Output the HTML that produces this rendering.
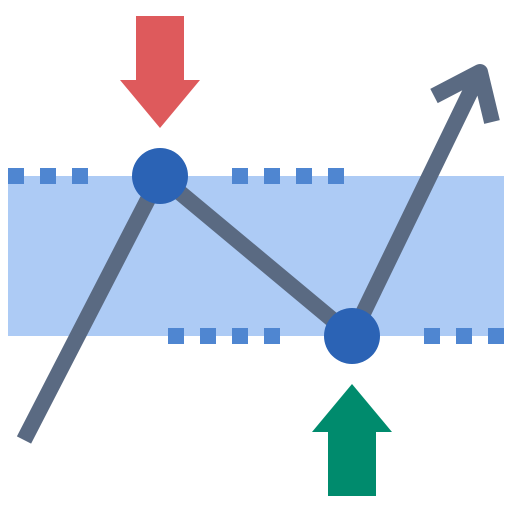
<!DOCTYPE html>
<html><head><meta charset="utf-8"><style>html,body{margin:0;padding:0;background:#fff;width:512px;height:512px;overflow:hidden}</style></head>
<body>
<svg id="s" width="512" height="512" viewBox="0 0 512 512" xmlns="http://www.w3.org/2000/svg">
<rect x="8" y="176" width="496" height="160" fill="#adcbf5"/>
<g id="dots"></g>
<polyline id="trend" fill="none" stroke="#5a6a82" stroke-width="16" stroke-linejoin="miter"/>
<polyline points="434,96 480,72 492,122" fill="none" stroke="#5a6a82" stroke-width="16" stroke-linejoin="round"/>
<g id="nodes"></g>
<g fill="#de5a5c">
<rect x="136" y="16" width="48" height="66"/>
<polygon points="120,80 200,80 160,128"/>
</g>
<g fill="#008b6d">
<rect x="328" y="430" width="48" height="66"/>
<polygon points="312,432 392,432 352,384"/>
</g>
</svg>
<script>
const pointsX=[24,160,352,480];
const pointsY=[440,176,336,72];
const topDotsX=[8,40,72,232,264,296,328];
const bottomDotsX=[168,200,232,264,424,456,488];
const NS='http://www.w3.org/2000/svg';
document.getElementById('trend').setAttribute('points',pointsX.map((x,i)=>x+','+pointsY[i]).join(' '));
const dots=document.getElementById('dots');
function sq(x,y){const r=document.createElementNS(NS,'rect');


r.setAttribute('x',x);r.setAttribute('y',y);r.setAttribute('width',16);r.setAttribute('height',16);r.setAttribute('fill','#4f86d1');dots.appendChild(r);}
topDotsX.forEach(x=>sq(x,168));
bottomDotsX.forEach(x=>sq(x,328));
const nodes=document.getElementById('nodes');
[1,2].forEach(i=>{const c=document.createElementNS(NS,'circle');


c.setAttribute('cx',pointsX[i]);c.setAttribute('cy',pointsY[i]);c.setAttribute('r',28);c.setAttribute('fill','#2b63b5');nodes.appendChild(c);});
</script>
</body></html>
